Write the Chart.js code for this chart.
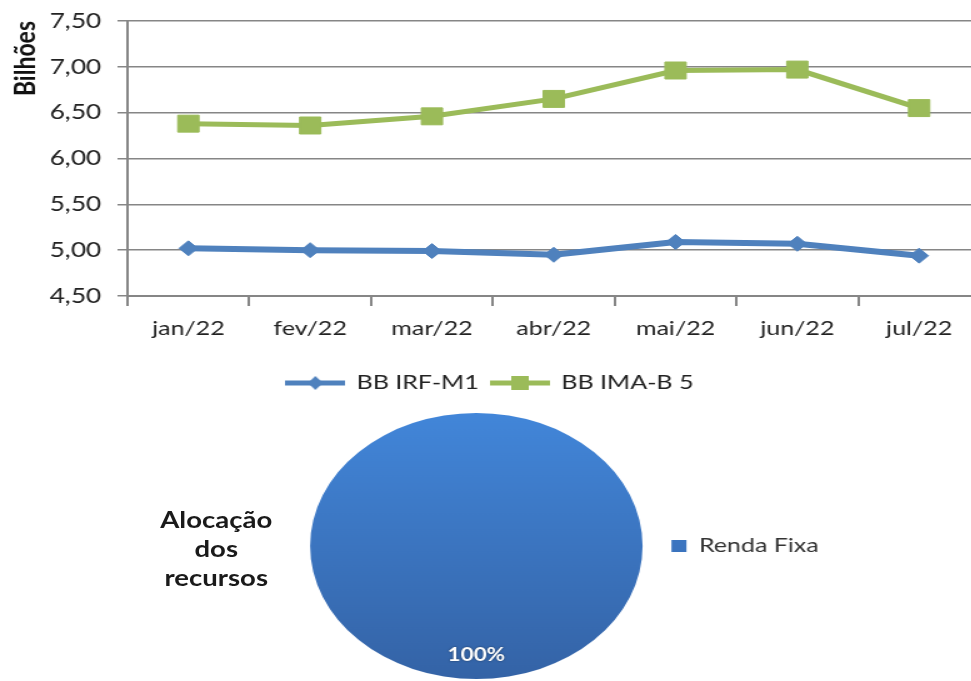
<!DOCTYPE html>
<html>
<head>
<meta charset="utf-8">
<script src="https://cdn.jsdelivr.net/npm/chart.js@4.4.0/dist/chart.umd.min.js"></script>
<style>
  html, body { margin: 0; padding: 0; background: #fff; overflow: hidden; }
  #page {
    position: relative; width: 777px; height: 681px;
    transform: scaleX(1.25); transform-origin: 0 0;
  }
  #lineChart { position: absolute; left: 0; top: 0; }
  #pieChart { position: absolute; left: 235px; top: 413px; }
  #pieTitle {
    position: absolute; left: 103px; top: 505px; width: 140px;
    text-align: center; font: bold 22px Lato, sans-serif; line-height: 29px; color: #1a1a1a;
  }
</style>
</head>
<body>
<div id="page">
  <canvas id="lineChart" width="784" height="403"></canvas>
  <div id="pieTitle">Alocação<br>dos<br>recursos</div>
  <canvas id="pieChart" width="430" height="266"></canvas>
</div>
<script>
// Data (Billions of R$)
var months = ['jan/22', 'fev/22', 'mar/22', 'abr/22', 'mai/22', 'jun/22', 'jul/22'];
var irfM1 = [5.02, 5.00, 4.99, 4.95, 5.09, 5.07, 4.94];
var imaB5 = [6.38, 6.36, 6.46, 6.65, 6.96, 6.97, 6.55];
var seriesNames = ['BB IRF-M1', 'BB IMA-B 5'];

var pieLabels = ['Renda Fixa'];
var pieValues = [100];

var blue = '#4f81bd';
var green = '#9bbb59';
var gridGray = '#868686';

// Small legend icon: line with the marker in the middle (Excel style)
function legendIcon(color, style) {
  var c = document.createElement('canvas');
  c.width = 48; c.height = 20;
  var g = c.getContext('2d');
  g.strokeStyle = color;
  g.lineWidth = 5;
  g.beginPath(); g.moveTo(0, 10); g.lineTo(48, 10); g.stroke();
  g.fillStyle = color;
  if (style === 'diamond') {
    g.beginPath(); g.moveTo(24, 3); g.lineTo(30, 10); g.lineTo(24, 17); g.lineTo(18, 10); g.closePath(); g.fill();
  } else {
    g.fillRect(17, 3, 14, 14);
  }
  return c;
}

var lineCtx = document.getElementById('lineChart').getContext('2d');
new Chart(lineCtx, {
  type: 'line',
  data: {
    labels: months,
    datasets: [
      {
        label: seriesNames[0],
        data: irfM1,
        borderColor: blue,
        backgroundColor: blue,
        borderWidth: 6,
        pointStyle: 'rectRot',
        pointRadius: 7.5,
        pointBorderWidth: 1,
        tension: 0
      },
      {
        label: seriesNames[1],
        data: imaB5,
        borderColor: green,
        backgroundColor: green,
        borderWidth: 5,
        pointStyle: 'rect',
        pointRadius: 12,
        pointBorderWidth: 1,
        tension: 0
      }
    ]
  },
  options: {
    responsive: false,
    animation: false,
    layout: { autoPadding: false, padding: { top: 21, left: 0, right: 0, bottom: 0 } },
    plugins: {
      tooltip: { enabled: false },
      legend: {
        position: 'bottom',
        labels: {
          usePointStyle: true,
          pointStyleWidth: 46,
          boxHeight: 20,
          padding: 10,
          color: '#222',
          font: { family: 'Lato', size: 20 },
          generateLabels: function (chart) {
            return chart.data.datasets.map(function (ds, i) {
              return {
                text: ds.label,
                pointStyle: legendIcon(ds.borderColor, i === 0 ? 'diamond' : 'square'),
                fillStyle: ds.borderColor,
                strokeStyle: ds.borderColor,
                lineWidth: 0,
                fontColor: '#222',
                datasetIndex: i
              };
            });
          }
        }
      }
    },
    scales: {
      x: {
        offset: true,
        afterFit: function (scale) { scale.height = 67; },
        grid: {
          offset: true,
          drawOnChartArea: false,
          drawTicks: true,
          tickLength: 10,
          color: gridGray,
          lineWidth: 2
        },
        border: { color: gridGray, width: 2 },
        ticks: { color: '#222', padding: 11, font: { family: 'Lato', size: 20 } }
      },
      y: {
        min: 4.5,
        max: 7.5,
        afterFit: function (scale) {
          scale.width = 102;
          scale.paddingTop = 12;
          scale.paddingBottom = 12;
        },
        grid: { color: gridGray, lineWidth: 1.5, tickLength: 8 },
        border: { color: gridGray, width: 2 },
        ticks: {
          stepSize: 0.5,
          padding: 13,
          color: '#222',
          font: { family: 'Lato', size: 21 },
          callback: function (v) { return v.toFixed(2).replace('.', ','); }
        },
        title: {
          display: true,
          text: 'Bilhões',
          align: 'end',
          color: '#111',
          padding: { top: 7, bottom: 0 },
          font: { family: 'Lato', size: 23, weight: 'bold' }
        }
      }
    }
  }
});

// Draws the percentage label inside the pie, at the slice's mid angle
var pieLabelPlugin = {
  id: 'pieLabel',
  afterDatasetsDraw: function (chart) {
    var ctx = chart.ctx;
    var values = chart.data.datasets[0].data;
    var total = values.reduce(function (a, b) { return a + b; }, 0);
    chart.getDatasetMeta(0).data.forEach(function (arc, i) {
      var p = arc.getProps(['x', 'y', 'startAngle', 'endAngle', 'outerRadius']);
      var mid = (p.startAngle + p.endAngle) / 2;
      var x = p.x + Math.cos(mid) * p.outerRadius * 0.82;
      var y = p.y + Math.sin(mid) * p.outerRadius * 0.82;
      ctx.save();
      ctx.font = 'bold 18px Lato';
      ctx.textAlign = 'center';
      ctx.textBaseline = 'middle';
      ctx.shadowColor = 'rgba(0,0,0,0.5)';
      ctx.shadowBlur = 2;
      ctx.fillStyle = '#fff';
      ctx.fillText(Math.round(values[i] / total * 100) + '%', x, y);
      ctx.restore();
    });
  }
};

var pieCtx = document.getElementById('pieChart').getContext('2d');
new Chart(pieCtx, {
  type: 'pie',
  data: {
    labels: pieLabels,
    datasets: [{
      data: pieValues,
      backgroundColor: function (c) {
        var area = c.chart.chartArea;
        if (!area) return '#3c74c0';
        var grad = c.chart.ctx.createLinearGradient(0, area.top, 0, area.bottom);
        grad.addColorStop(0, '#4286d9');
        grad.addColorStop(1, '#3463a6');
        return grad;
      },
      borderWidth: 0
    }]
  },
  options: {
    responsive: false,
    animation: false,
    layout: { padding: 0 },
    plugins: {
      tooltip: { enabled: false },
      legend: {
        position: 'right',
        labels: {
          boxWidth: 12,
          boxHeight: 12,
          padding: 10,
          color: '#333',
          font: { family: 'Lato', size: 20 }
        }
      }
    }
  },
  plugins: [pieLabelPlugin]
});
</script>
</body>
</html>
